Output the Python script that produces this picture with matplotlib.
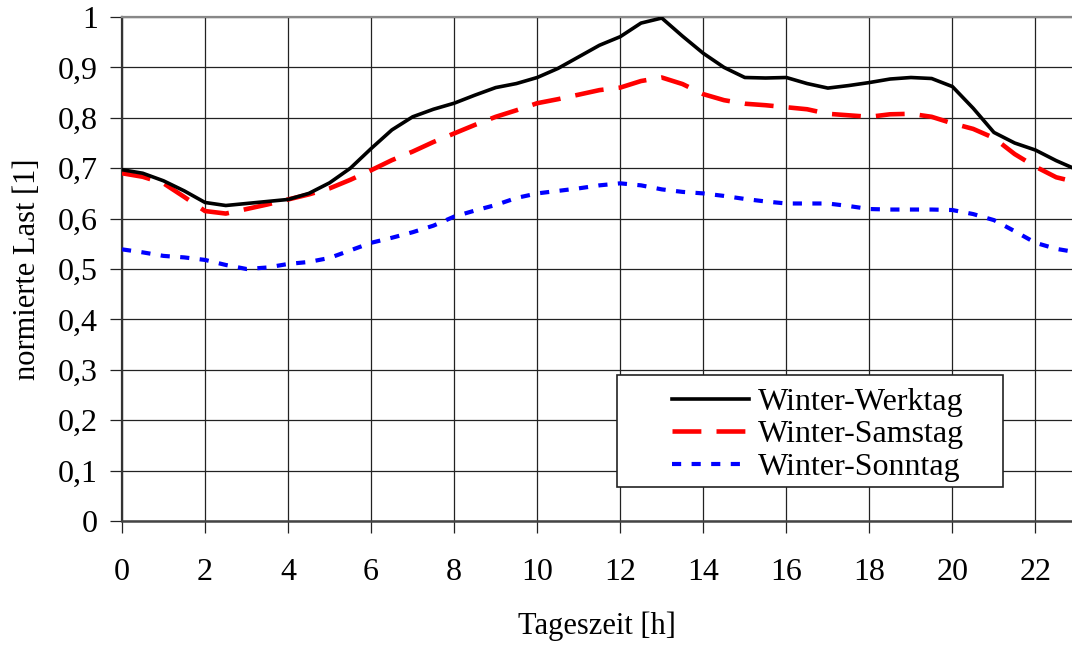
import numpy as np
import matplotlib
matplotlib.use("Agg")
import matplotlib.pyplot as plt
from matplotlib.patches import Rectangle

plt.rcParams["font.family"] = ["Liberation Serif", "DejaVu Serif"]

# ── Data: normalised winter load profiles, half-hourly ───────────────────────

hours = np.arange(0, 23.01, 0.5)

werktag = [0.697, 0.690, 0.675, 0.655, 0.632, 0.626, 0.630, 0.634, 0.638,
           0.650, 0.671, 0.700, 0.739, 0.776, 0.802, 0.817, 0.829, 0.845,
           0.860, 0.868, 0.880, 0.898, 0.921, 0.944, 0.961, 0.988, 0.998,
           0.962, 0.928, 0.900, 0.880, 0.879, 0.880, 0.868, 0.859, 0.864,
           0.870, 0.877, 0.880, 0.878, 0.862, 0.819, 0.771, 0.750, 0.736,
           0.715, 0.697]

samstag = [0.690, 0.683, 0.670, 0.643, 0.615, 0.610, 0.619, 0.628, 0.638,
           0.648, 0.660, 0.677, 0.696, 0.716, 0.733, 0.752, 0.769, 0.786,
           0.802, 0.815, 0.829, 0.837, 0.846, 0.855, 0.860, 0.873, 0.880,
           0.867, 0.847, 0.835, 0.828, 0.825, 0.821, 0.817, 0.808, 0.805,
           0.802, 0.807, 0.808, 0.802, 0.789, 0.778, 0.760, 0.728, 0.703,
           0.682, 0.672]

sonntag = [0.539, 0.533, 0.526, 0.523, 0.518, 0.508, 0.500, 0.503, 0.510,
           0.514, 0.522, 0.537, 0.552, 0.562, 0.573, 0.586, 0.604, 0.616,
           0.627, 0.641, 0.650, 0.655, 0.660, 0.666, 0.670, 0.666, 0.658,
           0.653, 0.650, 0.645, 0.639, 0.634, 0.630, 0.630, 0.630, 0.625,
           0.619, 0.618, 0.618, 0.618, 0.617, 0.609, 0.597, 0.575, 0.552,
           0.540, 0.533]

x_ticks = list(range(0, 23, 2))
y_ticks = [round(v * 0.1, 1) for v in range(11)]
y_tick_labels = ["0"] + [f"0,{i}" for i in range(1, 10)] + ["1"]

FS = 23

# ── Figure ───────────────────────────────────────────────────────────────────

fig = plt.figure(figsize=(10.72, 6.5), dpi=100)
ax = fig.add_axes([0.1138, 0.1985, 0.8862, 0.7753])

ax.plot(hours, werktag, color="black", lw=2.6, label="Winter-Werktag",
        solid_joinstyle="round", zorder=4)
ax.plot(hours, samstag, color="#ff0000", lw=3.3, dashes=(6.3, 3.3),
        label="Winter-Samstag", zorder=3)
ax.plot(hours, sonntag, color="#0000ff", lw=3.0, dashes=(2.2, 2.5),
        label="Winter-Sonntag", zorder=3)

ax.set_xlim(0, 22.88)
ax.set_ylim(0, 1)
ax.set_xticks(x_ticks)
ax.set_yticks(y_ticks)
ax.set_yticklabels(y_tick_labels)

ax.grid(True, color="#222222", lw=0.9)
ax.tick_params(axis="both", direction="out", length=8.5, width=0.9,
               labelsize=FS, color="#222222")
ax.tick_params(axis="x", pad=18)
ax.tick_params(axis="y", pad=9)

ax.spines["right"].set_visible(False)
ax.spines["top"].set_color("#888888")
ax.spines["top"].set_linewidth(1.6)
ax.spines["left"].set_color("#333333")
ax.spines["left"].set_linewidth(1.6)
ax.spines["bottom"].set_color("#444444")
ax.spines["bottom"].set_linewidth(1.8)

ax.set_xlabel("Tageszeit [h]", fontsize=22, labelpad=18)
ax.set_ylabel("normierte Last [1]", fontsize=22, labelpad=11)

# legend frame drawn separately (box wider than its content)
ax.add_patch(Rectangle((0.521, 0.0675), 0.406, 0.222, transform=ax.transAxes,
                       facecolor="white", edgecolor="#222222", lw=1.2,
                       zorder=5))
leg = ax.legend(loc="upper left", bbox_to_anchor=(0.579, 0.265),
                frameon=False, fontsize=FS, borderpad=0, handlelength=2.4,
                handletextpad=0.3, labelspacing=0.1, borderaxespad=0)
leg.set_zorder(6)

fig.savefig("out.png", dpi=100)
